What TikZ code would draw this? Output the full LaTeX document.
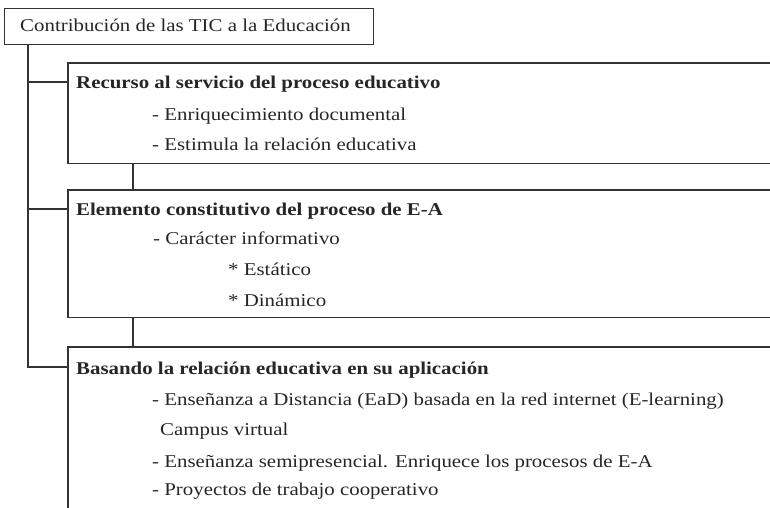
\documentclass[tikz,border=0pt]{standalone}
\usepackage{fontspec}
\setmainfont[FakeStretch=1.16]{Liberation Serif}
\begin{document}
\begin{tikzpicture}[x=1pt,y=-1pt,
  lin/.style={draw=black!80,line width=1.1pt},
  txt/.style={anchor=base west,inner sep=0pt,font=\fontsize{18}{20}\selectfont,text=black!85},
  hd/.style={txt,font=\fontsize{18}{20}\selectfont\bfseries},
  frame/.style={inner sep=0pt,draw=none}]
\useasboundingbox (0,0) rectangle (770,507);
% top box
\node[frame,lin,draw=black!80,minimum width=369pt,minimum height=36pt,anchor=north west] (top) at (4,8) {};
\node[txt] (toptxt) at (20,31) {Contribución de las TIC a la Educación};
% box 1
\node[frame,minimum width=702pt,minimum height=100pt,anchor=north west] (b1) at (68,63) {};
\draw[lin] (b1.north east) -- (b1.north west) -- (b1.south west) -- (b1.south east);
% box 2
\node[frame,minimum width=702pt,minimum height=127pt,anchor=north west] (b2) at (68,190) {};
\draw[lin] (b2.north east) -- (b2.north west) -- (b2.south west) -- (b2.south east);
% box 3
\node[frame,minimum width=702pt,minimum height=161pt,anchor=north west] (b3) at (68,347) {};
\draw[lin] (b3.north east) -- (b3.north west) -- (b3.south west);
% connectors
\coordinate (trunk) at (28,44);
\draw[lin] (trunk) |- (b3.west |- 0,367);
\draw[lin] (28,82) -- (b1.west |- 0,82);
\draw[lin] (28,209) -- (b2.west |- 0,209);
\draw[lin] (b1.south west -| 133,0) -- (b2.north west -| 133,0);
\draw[lin] (b2.south west -| 133,0) -- (b3.north west -| 133,0);
% texts box 1
\node[hd] (t1) at (76,88) {Recurso al servicio del proceso educativo};
\node[txt] (t11) at (152,120) {- Enriquecimiento documental};
\node[txt] (t12) at (152,150) {- Estimula la relación educativa};
% texts box 2
\node[hd] (t2) at (76,215) {Elemento constitutivo del proceso de E-A};
\node[txt] (t21) at (153,244) {- Carácter informativo};
\node[txt] (t22) at (228,275) {* Estático};
\node[txt] (t23) at (228,306) {* Dinámico};
% texts box 3
\node[hd] (t3) at (76,374) {Basando la relación educativa en su aplicación};
\node[txt] (t31) at (152,405) {- Enseñanza a Distancia (EaD) basada en la red internet (E-learning)};
\node[txt] (t32) at (160,435) {Campus virtual};
\node[txt] (t33) at (152,467) {- Enseñanza semipresencial. Enriquece los procesos de E-A};
\node[txt] (t34) at (152,495) {- Proyectos de trabajo cooperativo};
\end{tikzpicture}
\end{document}
